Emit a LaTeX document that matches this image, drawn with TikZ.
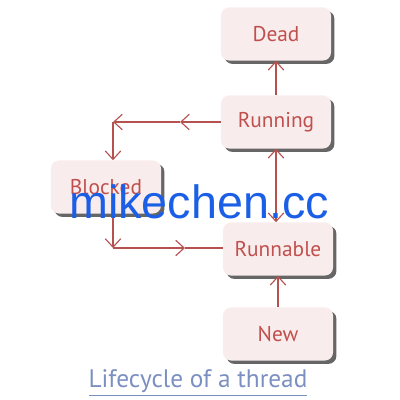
\documentclass[tikz,border=0pt]{standalone}
\usepackage{fontspec}
\setmainfont{PT Sans}
\newfontfamily\markfont{Liberation Sans}
\usetikzlibrary{arrows.meta,shadows}
\definecolor{statefill}{HTML}{F9ECEC}
\definecolor{statetext}{HTML}{C0504D}
\definecolor{linkline}{HTML}{B5514F}
\definecolor{captionblue}{HTML}{7B8FC0}
\definecolor{markblue}{HTML}{1A5FE6}
\tikzset{
	state/.style={rounded corners=0.2cm, fill=statefill, minimum width=2.75cm, minimum height=1.325cm,
		text=statetext, font=\fontsize{15.2}{18}\selectfont,
		drop shadow={shadow xshift=2.4pt, shadow yshift=-2.4pt, opacity=0.75, fill=black!80}},
	link/.style={draw=linkline, line width=0.8pt, -{Straight Barb[length=6pt,width=11pt]}},
}
\begin{document}
\begin{tikzpicture}[x=0.025cm,y=-0.025cm]
			\useasboundingbox (0,0) rectangle (400,400);
			\node[state] (dead) at (276,34) {Dead};
			\node[state] (running) at (276,122) {Running};
			\node[state] (blocked) at (106,187) {Blocked};
			\node[state] (runnable) at (278,249) {Runnable};
			\node[state] (new) at (278,334) {New};
			% corners of the loop on the left
			\coordinate (m1) at (180,122);
			\coordinate (c1) at (113,122);
			\coordinate (c3) at (113,248);
			\coordinate (m2) at (185,248);
			\draw [link] (running) -- (dead);
			\draw [link] (running.west) -- (m1);
			\draw [link] (m1) -- (c1);
			\draw [link] (c1) -- (c1 |- blocked.north);
			\draw [link] (c1 |- blocked.south) -- (c3);
			\draw [link] (c3) -- (m2);
			\draw [link,-] (m2) -- (m2 -| runnable.west);
			\draw [link,{Straight Barb[length=6pt,width=11pt]}-{Straight Barb[length=6pt,width=11pt]}] (running.south) -- (running.south |- runnable.north);
			\draw [link] (new) -- (new.north |- runnable.south);
			\node[text=captionblue, font=\fontsize{18}{22}\selectfont] (caption) at (198,383) {\underline{Lifecycle of a thread}};
			\node[anchor=base, text=markblue, font=\markfont\fontsize{33.2}{36}\selectfont] (mark) at (199,218) {mikechen.cc};
			\end{tikzpicture}
\end{document}
